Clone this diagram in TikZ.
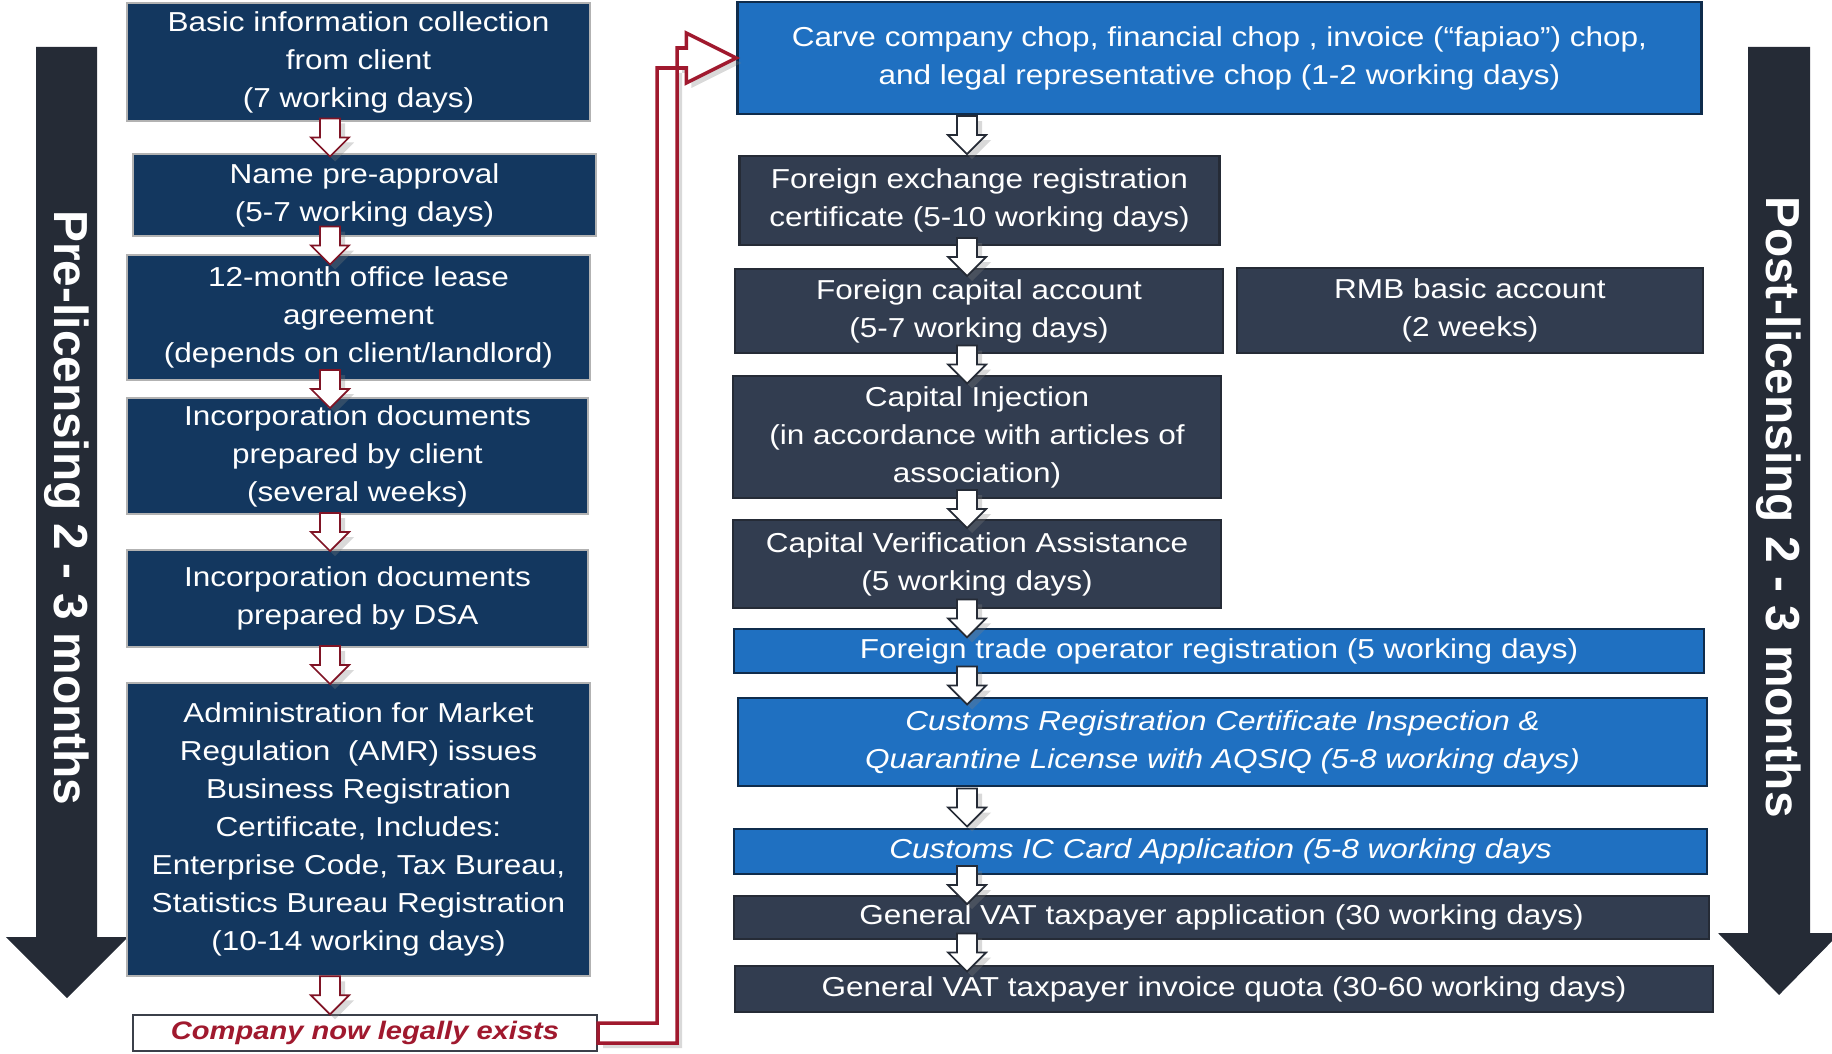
\documentclass[tikz,border=0pt]{standalone}
\usepackage{fontspec}
\setmainfont{Liberation Sans}[FakeStretch=1.15]
\newfontfamily\sidefont{Liberation Sans}
\usepackage{xcolor}
\usetikzlibrary{calc, shadows}
\definecolor{navy}{HTML}{13375F}
\definecolor{slate}{HTML}{323D50}
\definecolor{cblue}{HTML}{1F70C1}
\definecolor{night}{HTML}{252B36}
\definecolor{wine}{HTML}{A0192E}
\tikzset{
  stepbase/.style={rectangle, inner sep=0pt, align=center, text=white,
    font=\fontsize{7.8}{10.8}\selectfont},
  navybox/.style={stepbase, fill=navy, draw=gray!60, line width=0.4pt},
  slatebox/.style={stepbase, fill=slate, draw=night, line width=0.6pt},
  bluebox/.style={stepbase, fill=cblue, draw=navy!80!black, line width=0.7pt},
  compbox/.style={rectangle, inner sep=0pt, fill=white, draw=night!90, line width=0.2mm,
    text=wine, font=\bfseries\itshape\fontsize{7.2}{8}\selectfont},
  sidelabel/.style={rotate=-90, text=white, inner sep=0pt,
    font=\sidefont\bfseries\fontsize{13.6}{16}\selectfont},
  fatarrow/.style={draw=#1, fill=white, line width=0.5pt,
    drop shadow={shadow xshift=0.5mm, shadow yshift=-0.5mm, opacity=0.3},
    to path={let \p1=(\tikztostart), \p3=($(\tikztostart)!0.5!(\tikztotarget)$) in
      (\x1-1mm,\y3+1.9mm) -- (\x1+1mm,\y3+1.9mm) -- (\x1+1mm,\y3) -- (\x1+1.9mm,\y3)
      -- (\x1,\y3-1.9mm) -- (\x1-1.9mm,\y3) -- (\x1-1mm,\y3) -- cycle}},
  bentarrow/.style={draw=wine, fill=white, line width=1pt,
    drop shadow={shadow xshift=0.5mm, shadow yshift=-0.5mm, opacity=0.3},
    to path={let \p1=(\tikztostart), \p2=(\tikztotarget), \p3=(redx) in
      (\x1,\y1+1mm) -- (\x3-1mm,\y1+1mm) -- (\x3-1mm,\y2-1mm) -- (\x2-5mm,\y2-1mm)
      -- (\x2-5mm,\y2-2.5mm) -- (\x2,\y2) -- (\x2-5mm,\y2+2.5mm) -- (\x2-5mm,\y2+1mm)
      -- (\x3+1mm,\y2+1mm) -- (\x3+1mm,\y1-1mm) -- (\x1,\y1-1mm) -- cycle}}
}

\begin{document}
\begin{tikzpicture}[x=0.1mm, y=-0.1mm]
\useasboundingbox (0,0) rectangle (1832,1053);
\clip (0,0) rectangle (1832,1053);
% timeline arrows
\fill[night] (36,47) -- (97,47) -- (97,937) -- (128,937) -- (67,998) -- (6,937) -- (36,937) -- cycle;
\fill[night] (1748,47) -- (1810,47) -- (1810,933) -- (1840,933) -- (1779,995) -- (1718,933) -- (1748,933) -- cycle;
\node[sidelabel] (pre) at (66.5,508) {Pre-licensing 2 - 3 months};
\node[sidelabel] (post) at (1779,507) {Post-licensing 2 - 3 months};
% pre-licensing
\node[navybox, minimum width=46.3mm, minimum height=11.8mm] (b1) at (358.5,62) {Basic information collection\\from client\\(7 working days)};
\node[navybox, minimum width=46.3mm, minimum height=8.2mm] (b2) at (364.5,195) {Name pre-approval\\(5-7 working days)};
\node[navybox, minimum width=46.3mm, minimum height=12.5mm] (b3) at (358.5,317.5) {12-month office lease\\agreement\\(depends on client/landlord)};
\node[navybox, minimum width=46.1mm, minimum height=11.6mm] (b4) at (357.5,456) {Incorporation documents\\prepared by client\\(several weeks)};
\node[navybox, minimum width=46.1mm, minimum height=9.7mm] (b5) at (357.5,598.5) {Incorporation documents\\prepared by DSA};
\node[navybox, minimum width=46.3mm, minimum height=29.3mm] (amr) at (358.5,829.5) {Administration for Market\\Regulation\ \ (AMR) issues\\Business Registration\\Certificate, Includes:\\Enterprise Code, Tax Bureau,\\Statistics Bureau Registration\\(10-14 working days)};
\node[compbox, minimum width=46.4mm, minimum height=3.6mm] (comp) at (365,1033) {Company now legally exists};
% post-licensing
\node[bluebox, minimum width=96.4mm, minimum height=11.2mm] (carve) at (1219.5,58) {Carve company chop, financial chop , invoice (“fapiao”) chop,\\and legal representative chop (1-2 working days)};
\node[slatebox, minimum width=48mm, minimum height=8.9mm] (fx) at (979.5,200.5) {Foreign exchange registration\\certificate (5-10 working days)};
\node[slatebox, minimum width=48.8mm, minimum height=8.4mm] (fca) at (979,311) {Foreign capital account\\(5-7 working days)};
\node[slatebox, minimum width=46.6mm, minimum height=8.5mm] (rmb) at (1470,310.5) {RMB basic account\\(2 weeks)};
\node[slatebox, minimum width=48.8mm, minimum height=12.2mm] (ci) at (977,437) {Capital Injection\\(in accordance with articles of\\association)};
\node[slatebox, minimum width=48.8mm, minimum height=8.8mm] (cva) at (977,564) {Capital Verification Assistance\\(5 working days)};
\node[bluebox, minimum width=97mm, minimum height=4.4mm] (ft) at (1219,651) {Foreign trade operator registration (5 working days)};
\node[bluebox, minimum width=96.9mm, minimum height=8.8mm, font=\itshape\fontsize{7.8}{10.8}\selectfont] (crc) at (1222.5,742) {Customs Registration Certificate Inspection \&\\Quarantine License with AQSIQ (5-8 working days)};
\node[bluebox, minimum width=97.3mm, minimum height=4.5mm, font=\itshape\fontsize{7.8}{10.8}\selectfont] (ic) at (1220.5,851.5) {Customs IC Card Application (5-8 working days};
\node[slatebox, minimum width=97.5mm, minimum height=4.3mm] (vat) at (1221.5,917.5) {General VAT taxpayer application (30 working days)};
\node[slatebox, minimum width=97.8mm, minimum height=4.6mm] (quota) at (1224,989) {General VAT taxpayer invoice quota (30-60 working days)};
% connectors
\coordinate (lax) at (330,0);
\coordinate (rax) at (967,0);
\coordinate (redx) at (667,0);
\draw[fatarrow=wine!80!black] (b1.south -| lax) to (b2.north -| lax);
\draw[fatarrow=wine!80!black] (b2.south -| lax) to (b3.north -| lax);
\draw[fatarrow=wine!80!black] (b3.south -| lax) to (b4.north -| lax);
\draw[fatarrow=wine!80!black] (b4.south -| lax) to (b5.north -| lax);
\draw[fatarrow=wine!80!black] (b5.south -| lax) to (amr.north -| lax);
\draw[fatarrow=wine!80!black] (amr.south -| lax) to (comp.north -| lax);
\draw[fatarrow=night] (carve.south -| rax) to (fx.north -| rax);
\draw[fatarrow=night] (fx.south -| rax) to (fca.north -| rax);
\draw[fatarrow=night] (fca.south -| rax) to (ci.north -| rax);
\draw[fatarrow=night] (ci.south -| rax) to (cva.north -| rax);
\draw[fatarrow=night] (cva.south -| rax) to (ft.north -| rax);
\draw[fatarrow=night] (ft.south -| rax) to (crc.north -| rax);
\draw[fatarrow=night] (crc.south -| rax) to (ic.north -| rax);
\draw[fatarrow=night] (ic.south -| rax) to (vat.north -| rax);
\draw[fatarrow=night] (vat.south -| rax) to (quota.north -| rax);
\draw[bentarrow] (comp.east) to (carve.west);
\end{tikzpicture}
\end{document}
